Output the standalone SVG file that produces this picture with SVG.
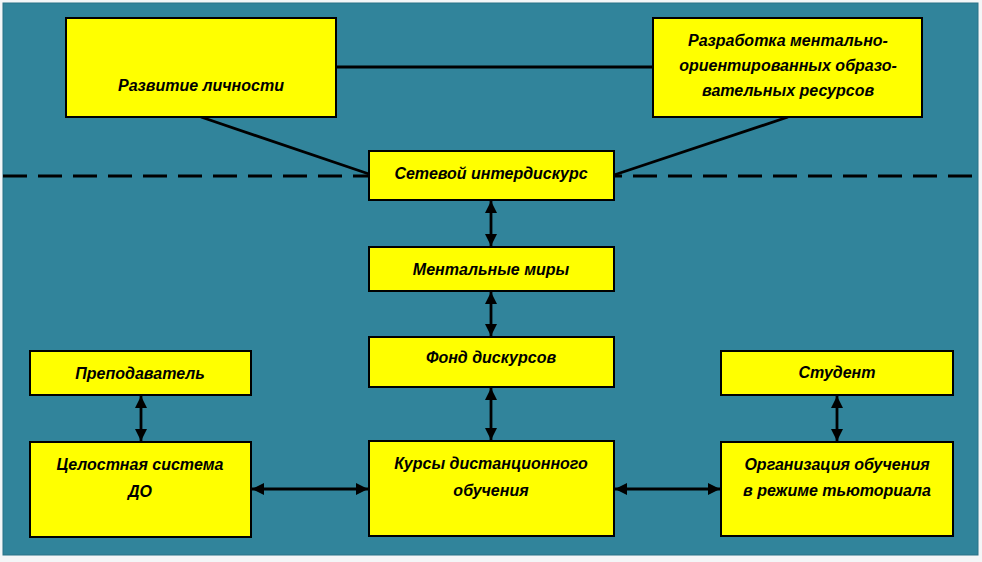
<svg xmlns="http://www.w3.org/2000/svg" width="982" height="562" viewBox="0 0 982 562">
<defs>
<style>
.box{fill:#ffff00;stroke:#000;stroke-width:2}
.t{font-family:"Liberation Sans",Arial,sans-serif;font-weight:bold;font-style:italic;font-size:16px;fill:#000;text-anchor:middle;dominant-baseline:central}
.ln{stroke:#000;stroke-width:2.8;fill:none}
.ar{stroke:#000;stroke-width:2.8;fill:none;marker-start:url(#ah);marker-end:url(#ah)}
</style>
<marker id="ah" viewBox="0 0 10 10" refX="10" refY="5" markerWidth="4.4" markerHeight="4.4" orient="auto-start-reverse" markerUnits="strokeWidth">
<path d="M0,0 L10,5 L0,10 Z" fill="#000"/>
</marker>
</defs>
<rect x="0" y="0" width="982" height="562" fill="#f4f6f7"/>
<rect x="3" y="3" width="975" height="552" fill="#31849b" stroke="#2a7387" stroke-width="1"/>
<g id="connectors">
<line class="ln" x1="336" y1="67" x2="653" y2="67"/>
<line class="ln" x1="201" y1="117" x2="369" y2="174"/>
<line class="ln" x1="788" y1="117" x2="614" y2="175"/>
<line class="ln" x1="3" y1="176" x2="978" y2="176" stroke-dasharray="24,11"/>
<line class="ar" x1="491" y1="201" x2="491" y2="246"/>
<line class="ar" x1="491" y1="292" x2="491" y2="336"/>
<line class="ar" x1="491" y1="388" x2="491" y2="440"/>
<line class="ar" x1="141" y1="396" x2="141" y2="441"/>
<line class="ar" x1="837" y1="396" x2="837" y2="441"/>
<line class="ar" x1="252" y1="489" x2="368" y2="489"/>
<line class="ar" x1="615" y1="489" x2="720" y2="489"/>
</g>
<g id="n1"><rect class="box" x="66" y="18" width="270" height="99"/><text class="t" x="201" y="85">Развитие личности</text></g>
<g id="n2"><rect class="box" x="653" y="18" width="269" height="99"/><text class="t" x="788" y="40">Разработка ментально-</text><text class="t" x="788" y="65">ориентированных образо-</text><text class="t" x="788" y="90">вательных ресурсов</text></g>
<g id="n3"><rect class="box" x="369" y="151" width="245" height="49"/><text class="t" x="491" y="173">Сетевой интердискурс</text></g>
<g id="n4"><rect class="box" x="369" y="247" width="245" height="44"/><text class="t" x="491" y="269">Ментальные миры</text></g>
<g id="n5"><rect class="box" x="369" y="337" width="245" height="50"/><text class="t" x="491" y="357">Фонд дискурсов</text></g>
<g id="n6"><rect class="box" x="30" y="351" width="221" height="44"/><text class="t" x="140" y="373">Преподаватель</text></g>
<g id="n7"><rect class="box" x="721" y="351" width="232" height="44"/><text class="t" x="837" y="372">Студент</text></g>
<g id="n8"><rect class="box" x="30" y="442" width="221" height="95"/><text class="t" x="140" y="464">Целостная система</text><text class="t" x="140" y="491">ДО</text></g>
<g id="n9"><rect class="box" x="369" y="441" width="245" height="95"/><text class="t" x="491" y="463">Курсы дистанционного</text><text class="t" x="491" y="490">обучения</text></g>
<g id="n10"><rect class="box" x="721" y="442" width="232" height="94"/><text class="t" x="837" y="464">Организация обучения</text><text class="t" x="837" y="490">в режиме тьюториала</text></g>
</svg>
